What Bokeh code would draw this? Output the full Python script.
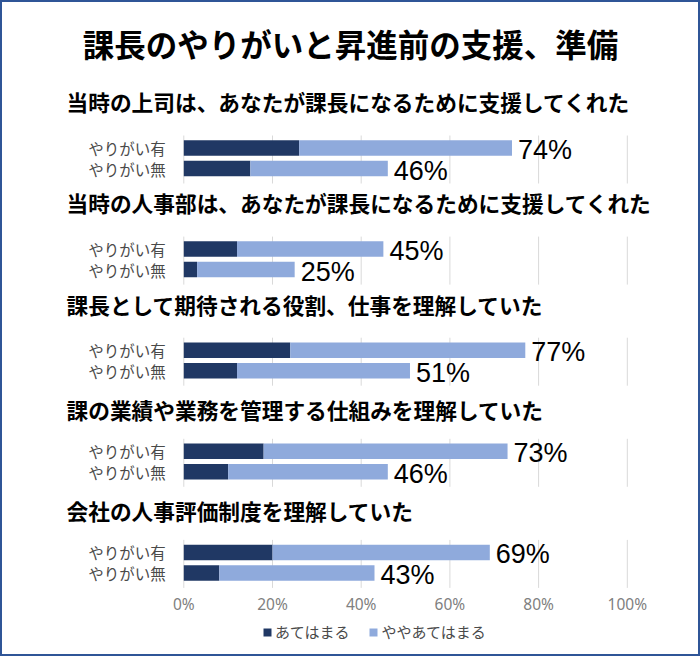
from bokeh.plotting import figure
from bokeh.layouts import column
from bokeh.models import (Range1d, FixedTicker, PrintfTickFormatter, ColumnDataSource,
                          Legend, LegendItem)
from bokeh.core.properties import value
from bokeh.embed import file_html
from bokeh.resources import INLINE

# ---------------- data ----------------
title_text = "課長のやりがいと昇進前の支援、準備"
questions = [
    "当時の上司は、あなたが課長になるために支援してくれた",
    "当時の人事部は、あなたが課長になるために支援してくれた",
    "課長として期待される役割、仕事を理解していた",
    "課の業績や業務を管理する仕組みを理解していた",
    "会社の人事評価制度を理解していた",
]
series_labels = ["やりがい有", "やりがい無"]
legend_labels = ["あてはまる", "ややあてはまる"]
yes_strong = [26, 12, 24, 18, 20]
yes_total = [74, 45, 77, 73, 69]
no_strong = [15, 3, 12, 10, 8]
no_total = [46, 25, 51, 46, 43]
ticks = [0, 20, 40, 60, 80, 100]

# ---------------- layout constants (reference pixels) ----------------
BORDER = 2
BCOL = "#2F5597"
X0 = 183.3          # pixel of 0 %
PXU = 4.435         # pixels per 1 %
FRAME_BOTTOM = 592  # reference pixel of frame bottom
AXIS_H = 26
FIRST_BAR = 147.5
GROUP_STEP = 101.1
PAIR_GAP = 20.5
HEAD_OFF = [-46.5, -46.5, -45.5, -41.5, -41.5]

def xv(px):
    return (px - X0) / PXU

DARK = "#203864"
LIGHT = "#8FAADC"
GRID = "#D9D9D9"
JP = "Noto Sans CJK JP"

# canvas is drawn 2 px in from the element's top-left corner
P_H = (FRAME_BOTTOM - BORDER) + AXIS_H
LEG_H = 656 - P_H - BORDER

p = figure(width=700, height=P_H,
           output_backend="svg", toolbar_location=None,
           x_range=Range1d(xv(BORDER), xv(700 + BORDER)),
           y_range=Range1d(FRAME_BOTTOM, BORDER),
           min_border_left=0, min_border_right=0, min_border_top=0,
           min_border_bottom=AXIS_H)
p.styles = {"border-top": f"{BORDER}px solid {BCOL}",
            "border-left": f"{BORDER}px solid {BCOL}",
            "border-right": f"{BORDER}px solid {BCOL}"}
p.outline_line_color = None
p.yaxis.visible = False
p.xgrid.visible = False
p.ygrid.visible = False

# y positions
ys_yes = [FIRST_BAR + i * GROUP_STEP for i in range(len(questions))]
ys_no = [y + PAIR_GAP for y in ys_yes]
ys = ys_yes + ys_no
strong = yes_strong + no_strong
total = yes_total + no_total
cat = [series_labels[0]] * len(questions) + [series_labels[1]] * len(questions)

src = ColumnDataSource(dict(y=ys, strong=strong, total=total, cat=cat,
                            zero=[0] * len(ys),
                            lbl=[f"{t}%" for t in total]))

# gridlines per group
gx, gy0, gy1 = [], [], []
for i in range(len(questions)):
    for t in ticks:
        gx.append(t)
        gy0.append(ys_yes[i] - 12.5)
        gy1.append(ys_no[i] + 15)
p.segment(x0=gx, x1=gx, y0=gy0, y1=gy1, line_color=GRID, line_width=1)

bar_h = 15.5
r1 = p.hbar(y="y", left="zero", right="strong", height=bar_h, source=src,
            fill_color=DARK, line_color=None)
r2 = p.hbar(y="y", left="strong", right="total", height=bar_h, source=src,
            fill_color=LIGHT, line_color=None)

# value labels
p.text(x="total", y="y", text="lbl", source=src, x_offset=6, y_offset=2,
       text_font=value("Liberation Sans"), text_font_size="27px",
       text_color="#000000", text_baseline="middle", text_align="left")

# category labels
p.text(x="zero", y="y", text="cat", source=src, x_offset=-18,
       text_font=value(JP), text_font_size="15.5px", text_color="#4a4a4a",
       text_baseline="middle", text_align="right")

# headings
hy = [ys_yes[i] + HEAD_OFF[i] for i in range(len(questions))]
p.text(x=[xv(66)] * len(questions), y=hy, text=questions,
       text_font=value(JP), text_font_size="21.7px", text_font_style="bold",
       text_color="#000000", text_baseline="middle", text_align="left")

# title
p.text(x=[xv(350)], y=[42], text=[title_text],
       text_font=value(JP), text_font_size="31.5px", text_font_style="bold",
       text_color="#000000", text_baseline="middle", text_align="center")

# x axis
p.xaxis.ticker = FixedTicker(ticks=ticks)
p.xaxis.formatter = PrintfTickFormatter(format="%d%%")
p.xaxis.axis_line_color = None
p.xaxis.major_tick_line_color = None
p.xaxis.minor_tick_line_color = None
p.xaxis.major_tick_out = 0
p.xaxis.major_tick_in = 0
p.xaxis.major_label_standoff = 0
p.xaxis.major_label_text_font = "Noto Sans"
p.xaxis.major_label_text_font_size = "15.5px"
p.xaxis.major_label_text_color = "#808080"

# ---------------- legend strip ----------------
p2 = figure(width=700, height=LEG_H + BORDER, output_backend="svg", toolbar_location=None,
            x_range=Range1d(-1000, -999), y_range=Range1d(-1000, -999),
            min_border=0)
p2.styles = {"border-bottom": f"{BORDER}px solid {BCOL}",
             "border-left": f"{BORDER}px solid {BCOL}",
             "border-right": f"{BORDER}px solid {BCOL}"}
p2.axis.visible = False
p2.grid.visible = False
p2.outline_line_color = None
# same bars, far outside this strip's range: only their legend swatches show
lr1 = p2.hbar(y="y", left="zero", right="strong", height=bar_h, source=src,
              fill_color=DARK, line_color=None)
lr2 = p2.hbar(y="y", left="strong", right="total", height=bar_h, source=src,
              fill_color=LIGHT, line_color=None)
legend = Legend(items=[LegendItem(label=legend_labels[0], renderers=[lr1]),
                       LegendItem(label=legend_labels[1], renderers=[lr2])],
                orientation="horizontal", location=(260, 14),
                border_line_color=None, background_fill_alpha=0,
                glyph_width=10, glyph_height=10, label_standoff=3, spacing=19,
                label_height=18,
                label_text_font=JP, label_text_font_size="15px",
                label_text_color="#4a4a4a", padding=0, margin=0)
p2.add_layout(legend)

layout = column(p, p2, spacing=0)

open("out.html", "w").write(file_html(layout, INLINE))
